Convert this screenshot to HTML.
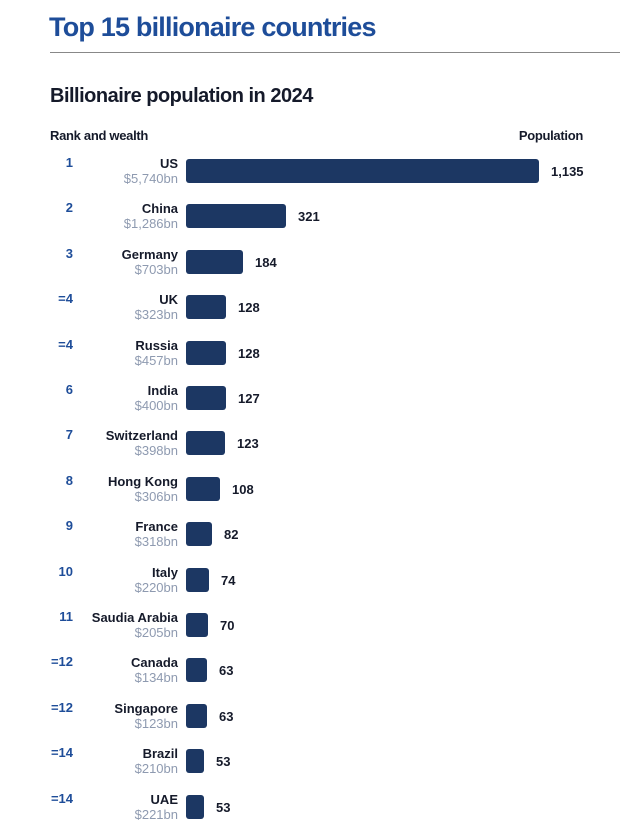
<!DOCTYPE html>
<html><head><style>
body{margin:0;width:620px;height:825px;background:#fff;font-family:"Liberation Sans",sans-serif;position:relative;overflow:hidden}
.a{position:absolute;white-space:nowrap}
.t{left:49px;top:12px;font-size:27px;font-weight:bold;color:#1e4d99;letter-spacing:-0.8px}
.ln{left:50px;top:52px;width:570px;height:1px;background:#888}
.s{left:50px;top:85px;font-size:20px;font-weight:bold;color:#151a2a;letter-spacing:-0.5px}
.h{top:128px;font-size:13px;font-weight:bold;color:#151a2a;letter-spacing:-0.3px}
.r{width:40px;text-align:right;left:33px;font-size:13px;font-weight:bold;color:#1e4d99}
.n{right:442px;text-align:right;font-size:13px;font-weight:bold;color:#151a2a;line-height:15px}
.n span{display:block;font-weight:normal;color:#8e9ab0;font-size:13px}
.b{left:186px;height:24px;background:#1c3763;border-radius:3px}
.v{font-size:13px;font-weight:bold;color:#151a2a}
</style></head><body>
<div class="a t">Top 15 billionaire countries</div>
<div class="a ln"></div>
<div class="a s">Billionaire population in 2024</div>
<div class="a h" style="left:50px">Rank and wealth</div>
<div class="a h" style="right:37px">Population</div>
<div id="c"></div>
<script>
var d=[["1","US","$5,740bn",1135,353],["2","China","$1,286bn",321,100],["3","Germany","$703bn",184,57],["=4","UK","$323bn",128,40],["=4","Russia","$457bn",128,40],["6","India","$400bn",127,40],["7","Switzerland","$398bn",123,39],["8","Hong Kong","$306bn",108,34],["9","France","$318bn",82,26],["10","Italy","$220bn",74,23],["11","Saudia Arabia","$205bn",70,22],["=12","Canada","$134bn",63,21],["=12","Singapore","$123bn",63,21],["=14","Brazil","$210bn",53,18],["=14","UAE","$221bn",53,18]];
var h="";
d.forEach(function(r,i){var y=155+i*45.4;
h+='<div class="a r" style="top:'+(y)+'px">'+r[0]+'</div>';
h+='<div class="a n" style="top:'+(y+1)+'px">'+r[1]+'<span>'+r[2]+'</span></div>';
h+='<div class="a b" style="top:'+(y+4)+'px;width:'+r[4]+'px"></div>';
h+='<div class="a v" style="top:'+(y+9)+'px;left:'+(186+r[4]+12)+'px">'+r[3].toLocaleString("en-US")+'</div>';});
document.getElementById("c").innerHTML=h;
</script>
</body></html>
